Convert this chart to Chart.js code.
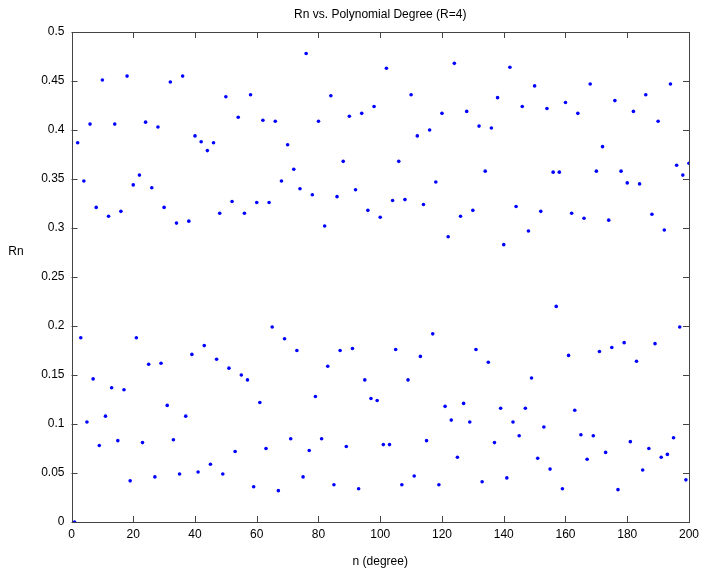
<!DOCTYPE html>
<html>
<head>
<meta charset="utf-8">
<script src="https://cdn.jsdelivr.net/npm/chart.js@4.4.1/dist/chart.umd.min.js"></script>
<style>
  html, body { margin: 0; padding: 0; background: #fff; }
</style>
</head>
<body>
<canvas id="myChart" width="704" height="574"></canvas>
<script>
// Rn for odd degrees n = 1, 3, 5, ..., 199
const oddRn = [
    0.000, 0.188, 0.102, 0.146, 0.078, 0.108, 0.137, 0.083, 0.135, 0.042,
    0.188, 0.081, 0.161, 0.046, 0.162, 0.119, 0.084, 0.049, 0.108, 0.171,
    0.051, 0.180, 0.059, 0.166, 0.049, 0.157, 0.072, 0.150, 0.145, 0.036,
    0.122, 0.075, 0.199, 0.032, 0.187, 0.085, 0.175, 0.046, 0.073, 0.128,
    0.085, 0.159, 0.038, 0.175, 0.077, 0.177, 0.034, 0.145, 0.126, 0.124,
    0.079, 0.079, 0.176, 0.038, 0.145, 0.047, 0.169, 0.083, 0.192, 0.038,
    0.118, 0.104, 0.066, 0.121, 0.102, 0.176, 0.041, 0.163, 0.081, 0.116,
    0.045, 0.102, 0.088, 0.116, 0.147, 0.065, 0.097, 0.054, 0.220, 0.034,
    0.170, 0.114, 0.089, 0.064, 0.088, 0.174, 0.071, 0.178, 0.033, 0.183,
    0.082, 0.164, 0.053, 0.075, 0.182, 0.066, 0.069, 0.086, 0.199, 0.043
];

// Rn for even degrees n = 2, 4, 6, ..., 200
const evenRn = [
    0.387, 0.348, 0.406, 0.321, 0.451, 0.312, 0.406, 0.317, 0.455, 0.344,
    0.354, 0.408, 0.341, 0.403, 0.321, 0.449, 0.305, 0.455, 0.307, 0.394,
    0.388, 0.379, 0.387, 0.315, 0.434, 0.327, 0.413, 0.315, 0.436, 0.326,
    0.410, 0.326, 0.409, 0.348, 0.385, 0.360, 0.340, 0.478, 0.334, 0.409,
    0.302, 0.435, 0.332, 0.368, 0.414, 0.339, 0.417, 0.318, 0.424, 0.311,
    0.463, 0.328, 0.368, 0.329, 0.436, 0.394, 0.324, 0.400, 0.347, 0.417,
    0.291, 0.468, 0.312, 0.419, 0.318, 0.404, 0.358, 0.402, 0.433, 0.283,
    0.464, 0.322, 0.424, 0.297, 0.445, 0.317, 0.422, 0.357, 0.357, 0.428,
    0.315, 0.417, 0.310, 0.447, 0.358, 0.383, 0.308, 0.430, 0.358, 0.346,
    0.419, 0.345, 0.436, 0.314, 0.409, 0.298, 0.447, 0.364, 0.354, 0.366
];

const xTicks = [0, 20, 40, 60, 80, 100, 120, 140, 160, 180, 200];
const yTicks = [0, 0.05, 0.1, 0.15, 0.2, 0.25, 0.3, 0.35, 0.4, 0.45, 0.5];
const yLabel = "Rn";

const axisColor = "#444";
const fontFamily = "'Liberation Sans', Arial, sans-serif";

const points = [];
oddRn.forEach((v, i) => points.push({ x: 2 * i + 1, y: v }));
evenRn.forEach((v, i) => points.push({ x: 2 * i + 2, y: v }));
points.sort((a, b) => a.x - b.x);

// matlab style box with inward ticks on all sides, plus the upright y label
const boxTicks = {
    id: "boxTicks",
    afterDatasetsDraw(chart) {
        const { ctx, chartArea: a, scales: { x, y } } = chart;
        ctx.save();
        ctx.strokeStyle = axisColor;
        ctx.lineWidth = 1;
        ctx.beginPath();
        xTicks.forEach((t) => {
            const px = Math.round(x.getPixelForValue(t)) + 0.5;
            ctx.moveTo(px, a.bottom);
            ctx.lineTo(px, a.bottom - 6);
            ctx.moveTo(px, a.top);
            ctx.lineTo(px, a.top + 6);
        });
        yTicks.forEach((t) => {
            const py = Math.round(y.getPixelForValue(t)) + 0.5;
            ctx.moveTo(a.left, py);
            ctx.lineTo(a.left + 6, py);
            ctx.moveTo(a.right, py);
            ctx.lineTo(a.right - 6, py);
        });
        ctx.stroke();
        ctx.strokeRect(Math.round(a.left) + 0.5, Math.round(a.top) + 0.5,
            Math.round(a.right - a.left), Math.round(a.bottom - a.top));

        ctx.fillStyle = "#000";
        ctx.font = "12px " + fontFamily;
        ctx.textAlign = "center";
        ctx.textBaseline = "middle";
        ctx.fillText(yLabel, 16, 252);
        ctx.restore();
    },
};

const ctx = document.getElementById("myChart");
new Chart(ctx, {
    type: "scatter",
    data: {
        datasets: [
            {
                label: "Rn",
                data: points,
                backgroundColor: "#0000ff",
                borderWidth: 0,
                pointRadius: 1.8,
                pointHoverRadius: 1.8,
            },
        ],
    },
    options: {
        responsive: false,
        animation: false,
        layout: { padding: { left: 0, right: 12, top: 0, bottom: 0 } },
        plugins: {
            legend: { display: false },
            tooltip: { enabled: false },
            title: {
                display: true,
                fullSize: false,
                text: "Rn vs. Polynomial Degree (R=4)",
                color: "#000",
                font: { family: fontFamily, size: 12, weight: "normal", lineHeight: 1.2 },
                padding: { top: 7, bottom: 10.6 },
            },
        },
        scales: {
            x: {
                type: "linear",
                min: 0,
                max: 200,
                afterBuildTicks: (scale) => { scale.ticks = xTicks.map((v) => ({ value: v })); },
                afterFit: (scale) => { scale.height = 52; },
                grid: { display: false, drawTicks: false },
                border: { display: false },
                ticks: {
                    color: "#000",
                    padding: 5,
                    maxRotation: 0,
                    font: { family: fontFamily, size: 12 },
                },
                title: {
                    display: true,
                    text: "n (degree)",
                    color: "#000",
                    font: { family: fontFamily, size: 12 },
                    padding: { top: 0, bottom: 5 },
                },
            },
            y: {
                type: "linear",
                min: 0,
                max: 0.5,
                afterBuildTicks: (scale) => { scale.ticks = yTicks.map((v) => ({ value: v })); },
                afterFit: (scale) => { scale.width = 71.5; },
                grid: { display: false, drawTicks: false },
                border: { display: false },
                ticks: {
                    color: "#000",
                    padding: 7,
                    font: { family: fontFamily, size: 12 },
                    callback: (v) => String(Math.round(v * 100) / 100),
                },
            },
        },
    },
    plugins: [boxTicks],
});
</script>
</body>
</html>
